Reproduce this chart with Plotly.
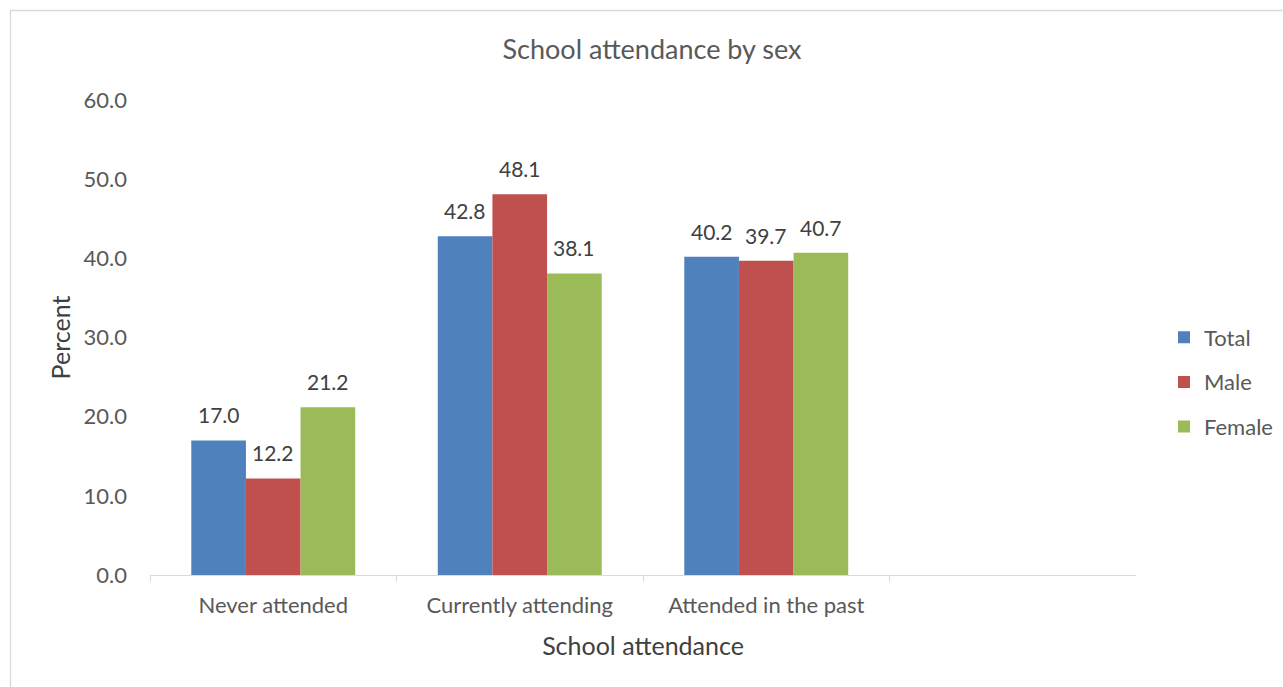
import plotly.graph_objects as go

categories = ["Never attended", "Currently attending", "Attended in the past"]
series_names = ["Total", "Male", "Female"]
total = [17.0, 42.8, 40.2]
male = [12.2, 48.1, 39.7]
female = [21.2, 38.1, 40.7]
colors = ["#4F81BD", "#C0504D", "#9BBB59"]

W, H = 1283, 687
L, R, T, B = 150, W - 1136, 100, H - 575
FONT = "Lato"
BARGAP = 0.335
N_SLOTS = 4  # three categories plus one empty slot on the right

pw, ph = W - L - R, H - T - B
slot_px = pw / N_SLOTS
bar_px = slot_px * (1 - BARGAP) / len(series_names)

fig = go.Figure()
for i, (name, vals) in enumerate(zip(series_names, [total, male, female])):
    fig.add_trace(go.Bar(
        x=categories, y=vals, name=name,
        marker=dict(color=colors[i], line=dict(width=0)),
        legendgroup=name,
    ))
    # value labels above each bar
    for cat, v in zip(categories, vals):
        fig.add_annotation(
            x=cat, y=v, xref="x", yref="y",
            text=f"{v:.1f}", showarrow=False,
            xanchor="center", yanchor="bottom",
            xshift=(i - 1) * bar_px, yshift=11,
            font=dict(family=FONT, size=21, color="#404040"),
        )

# light chart-area border
fig.add_shape(type="rect", xref="paper", yref="paper",
              x0=(10.5 - L) / pw, x1=(W + 20 - L) / pw,
              y0=-(H + 20 - (H - B)) / ph, y1=(H - B - 10.5) / ph,
              line=dict(color="#d9d9d9", width=1.3), fillcolor="rgba(0,0,0,0)")

fig.update_layout(
    width=W, height=H,
    margin=dict(l=L, r=R, t=T, b=B, autoexpand=False),
    paper_bgcolor="white", plot_bgcolor="white",
    font=dict(family=FONT, color="#595959"),
    barmode="group", bargap=BARGAP, bargroupgap=0,
    title=dict(text="School attendance by sex", x=652 / W, xref="container",
               xanchor="center", y=1 - 50 / H, yanchor="middle",
               font=dict(size=27, color="#595959", family=FONT)),
    xaxis=dict(
        type="category", categoryorder="array", categoryarray=categories,
        range=[-0.5, N_SLOTS - 0.5], tickson="boundaries", ticks="outside",
        ticklen=6, tickcolor="#d9d9d9", showline=True, linecolor="#d9d9d9",
        linewidth=1.3, showgrid=False, ticklabelstandoff=10,
        tickfont=dict(size=22, color="#595959"),
        title=dict(text="School attendance", font=dict(size=25, color="#404040"),
                   standoff=20),
    ),
    yaxis=dict(
        range=[0, 60], tickvals=[0, 10, 20, 30, 40, 50, 60],
        tickformat=".1f", showgrid=False, zeroline=False, showline=False,
        ticks="", ticklabelstandoff=22,
        tickfont=dict(size=22, color="#595959"),
        title=dict(text="Percent", font=dict(size=25, color="#404040"),
                   standoff=5),
    ),
    legend=dict(x=(1164 - L) / pw, y=(575 - 382) / ph, xanchor="left",
                yanchor="middle", traceorder="grouped", tracegroupgap=13,
                font=dict(size=22, color="#595959"), itemwidth=30),
    showlegend=True,
)

fig.write_html("out.html")
